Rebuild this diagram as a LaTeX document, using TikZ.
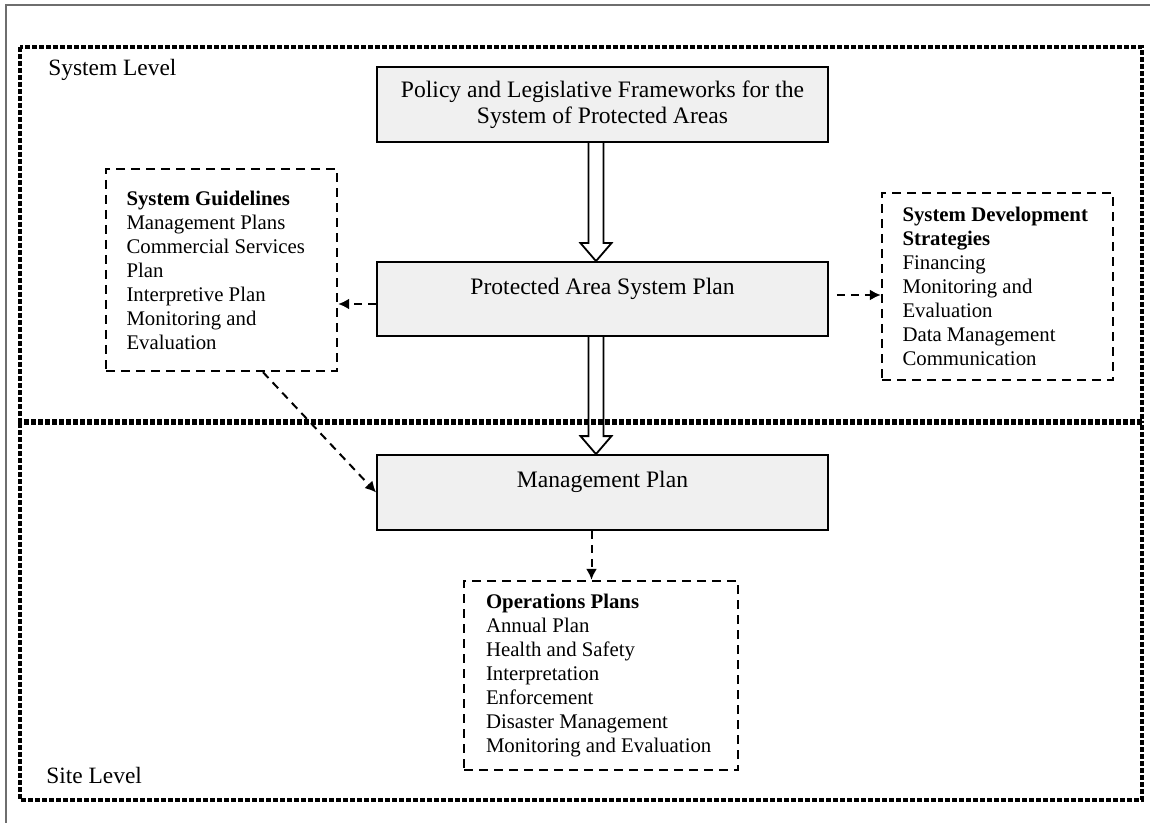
\documentclass[tikz,border=0pt]{standalone}
\usepackage{fontspec}
\setmainfont{Liberation Serif}
\usepackage{tikz}
\usetikzlibrary{arrows.meta,positioning,calc}
\definecolor{boxgray}{HTML}{F0F0F0}
\definecolor{framegray}{HTML}{6E6E6E}

% open block arrow from one box down to the next
\newcommand{\hollowarrow}[2]{%
  \coordinate (ha) at ($(#1)+(-6.5,0)$);
  \coordinate (hb) at (ha |- #2);
  \draw[line width=0.9pt] ($(ha)+(-7.5,0)$) -- ($(hb)+(-7.5,-18)$) -- ($(hb)+(-15.5,-18)$) -- (hb)
    -- ($(hb)+(15.5,-18)$) -- ($(hb)+(7.5,-18)$) -- ($(ha)+(7.5,0)$);}

\begin{document}
\begin{tikzpicture}[x=0.5pt,y=-0.5pt,
  planbox/.style={draw, line width=0.9pt, fill=boxgray, minimum width=225.5pt, align=center, inner sep=0pt, font=\fontsize{11.8}{13}\selectfont},
  listbox/.style={draw, line width=1.2pt, dash pattern=on 4.5pt off 3pt, align=flush left, inner ysep=0pt, font=\fontsize{10.4}{12}\selectfont},
  levelframe/.style={line width=1.8pt, dash pattern=on 2.5pt off 1pt},
  dasharrow/.style={line width=1pt, dash pattern=on 4pt off 3pt, -{Latex[length=5.5pt,width=5.5pt]}},
  levellabel/.style={anchor=west, inner sep=0pt, font=\fontsize{11.7}{13}\selectfont}]
\useasboundingbox (0,0) rectangle (1150,823);
\draw[framegray, line width=1pt] (1150,5) -- (6,5) -- (6,823);
% system and site levels
\draw[levelframe] (20,47) rectangle (1142,421);
\draw[levelframe] (20,423) rectangle (1142,800);
\node[levellabel] (syslevel) at (48,70) {System Level};
\node[levellabel] (sitelevel) at (46,775) {Site Level};
% plan boxes
\node[planbox, minimum height=37.5pt] (policy) at (602.5,104.5) {Policy and Legislative Frameworks for the\\System of Protected Areas};
\node[planbox, minimum height=37pt] (sysplan) at (602.5,299) {Protected Area System Plan\\\mbox{}};
\node[planbox, minimum height=37.5pt] (mgmt) at (602.5,492.5) {Management Plan\\\mbox{}};
% dashed lists
\node[listbox, inner xsep=10.25pt, text width=95pt, minimum height=101pt] (guide) at (221.5,270) {\textbf{System Guidelines}\\Management Plans\\Commercial Services\\Plan\\Interpretive Plan\\Monitoring and\\Evaluation};
\node[listbox, inner xsep=10.25pt, text width=95pt, minimum height=93.5pt] (devstrat) at (997.5,286.5) {\textbf{System Development}\\\textbf{Strategies}\\Financing\\Monitoring and\\Evaluation\\Data Management\\Communication};
\node[listbox, inner xsep=11pt, text width=115pt, minimum height=94.5pt] (ops) at (601,675.5) {\textbf{Operations Plans}\\Annual Plan\\Health and Safety\\Interpretation\\Enforcement\\Disaster Management\\Monitoring and Evaluation};
% connectors
\hollowarrow{policy.south}{sysplan.north}
\hollowarrow{sysplan.south}{mgmt.north}
\draw[dasharrow] ([yshift=-2.5pt]sysplan.west) -- ([yshift=-2.5pt]sysplan.west -| guide.east);
\draw[dasharrow, shorten <=4pt] ([yshift=2pt]sysplan.east) -- ([yshift=2pt]sysplan.east -| devstrat.west);
\draw[dasharrow] ([xshift=20.75pt]guide.south) -- (mgmt.west);
\draw[dasharrow] ([xshift=-5.5pt]mgmt.south) -- ([xshift=-5.5pt]mgmt.south |- ops.north);
\end{tikzpicture}
\end{document}
